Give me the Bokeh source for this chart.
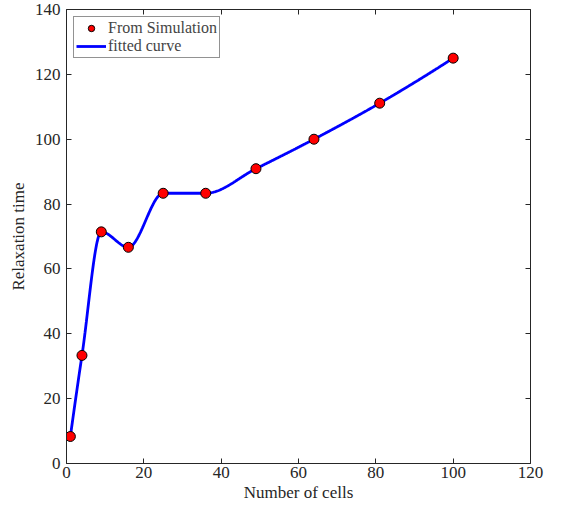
import numpy as np
from bokeh.plotting import figure
from bokeh.models import LinearAxis, Range1d, FixedTicker, Legend, LegendItem
from bokeh.embed import file_html
from bokeh.resources import INLINE

cells = [1, 4, 9, 16, 25, 36, 49, 64, 81, 100]
relax = [8.33, 33.33, 71.43, 66.67, 83.33, 83.33, 90.91, 100.0, 111.11, 125.0]
x_ticks = [0, 20, 40, 60, 80, 100, 120]
y_ticks = [0, 20, 40, 60, 80, 100, 120, 140]


def pchip(x, y, xs):
    x = np.asarray(x, float); y = np.asarray(y, float)
    h = np.diff(x); d = np.diff(y) / h
    n = len(x); m = np.zeros(n)
    for k in range(1, n - 1):
        if d[k - 1] * d[k] > 0:
            w1 = 2 * h[k] + h[k - 1]; w2 = h[k] + 2 * h[k - 1]
            m[k] = (w1 + w2) / (w1 / d[k - 1] + w2 / d[k])
        else:
            m[k] = 0.0
    def end(h0, h1, d0, d1):
        s = ((2 * h0 + h1) * d0 - h0 * d1) / (h0 + h1)
        if np.sign(s) != np.sign(d0):
            s = 0.0
        elif np.sign(d0) != np.sign(d1) and abs(s) > abs(3 * d0):
            s = 3 * d0
        return s
    m[0] = end(h[0], h[1], d[0], d[1])
    m[-1] = end(h[-1], h[-2], d[-1], d[-2])
    out = np.empty_like(xs)
    idx = np.clip(np.searchsorted(x, xs) - 1, 0, n - 2)
    for i, xv in enumerate(xs):
        k = idx[i]; t = (xv - x[k]) / h[k]
        h00 = 2 * t**3 - 3 * t**2 + 1; h10 = t**3 - 2 * t**2 + t
        h01 = -2 * t**3 + 3 * t**2; h11 = t**3 - t**2
        out[i] = h00 * y[k] + h10 * h[k] * m[k] + h01 * y[k + 1] + h11 * h[k] * m[k + 1]
    return out

xs = np.linspace(cells[0], cells[-1], 600)
ys = pchip(cells, relax, xs)

FONT = "Liberation Serif"
AX = "#262626"

p = figure(width=563, height=508, output_backend="svg", toolbar_location=None,
           x_range=Range1d(0, 120), y_range=Range1d(0, 140),
           min_border_left=66, min_border_right=33, min_border_top=9, min_border_bottom=45)
p.grid.visible = False
p.outline_line_color = None

ln = p.line(xs, ys, line_color="#0000ff", line_width=2.8)
sc = p.scatter(cells, relax, size=10, fill_color="#ff0000", line_color="black", line_width=1)

for ax in [p.xaxis[0], p.yaxis[0]]:
    ax.axis_line_color = AX
    ax.major_tick_line_color = AX
    ax.major_tick_in = 5
    ax.major_tick_out = 0
    ax.minor_tick_line_color = None
    ax.major_label_text_font = FONT
    ax.major_label_text_font_size = "17px"
    ax.major_label_text_color = AX
    ax.axis_label_text_font = FONT
    ax.axis_label_text_font_size = "17px"
    ax.axis_label_text_font_style = "normal"
    ax.axis_label_text_color = AX
p.xaxis[0].ticker = FixedTicker(ticks=x_ticks)
p.yaxis[0].ticker = FixedTicker(ticks=y_ticks)
p.xaxis[0].axis_label = "Number of cells"
p.yaxis[0].axis_label = "Relaxation time"
p.xaxis[0].major_label_standoff = 3
p.yaxis[0].major_label_standoff = 6
p.xaxis[0].axis_label_standoff = 2
p.yaxis[0].axis_label_standoff = 4

for side, ticks in [("above", x_ticks), ("right", y_ticks)]:
    a = LinearAxis(ticker=FixedTicker(ticks=ticks), axis_line_color=AX,
                   major_tick_line_color=AX, major_tick_in=5, major_tick_out=0,
                   minor_tick_line_color=None, major_label_text_font_size="0px",
                   major_label_standoff=0)
    p.add_layout(a, side)

legend = Legend(items=[LegendItem(label="From Simulation", renderers=[sc]),
                       LegendItem(label="fitted curve", renderers=[ln])],
                location="top_left", label_text_font=FONT, label_text_font_size="16px",
                border_line_color=AX, border_line_width=1, padding=2, spacing=0,
                margin=7, glyph_width=30, glyph_height=16, label_height=16,
                label_standoff=2, background_fill_alpha=1)
p.add_layout(legend)

open("out.html", "w").write(file_html(p, INLINE))
